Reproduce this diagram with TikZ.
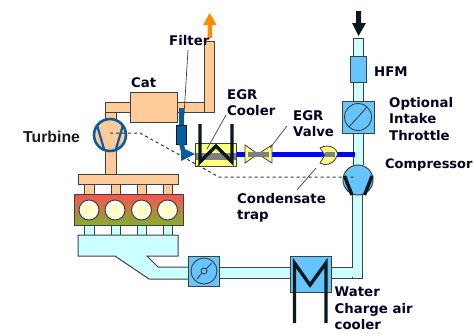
\documentclass[tikz,border=0pt]{standalone}
\usepackage{fontspec}
\setmainfont{DejaVu Sans}
\newfontfamily\arialfont{Liberation Sans}
\usetikzlibrary{arrows,positioning}
\definecolor{hotpipe}{HTML}{FFCC99}
\definecolor{coldpipe}{HTML}{CCFFFF}
\definecolor{sensorblue}{HTML}{66C4FF}
\definecolor{filterblue}{HTML}{0A5CA0}
\definecolor{linegrey}{HTML}{404040}
\definecolor{coilblack}{HTML}{06191F}
\definecolor{egryellow}{HTML}{FFFF80}
\definecolor{blocktop}{HTML}{FF5050}
\definecolor{blockbottom}{HTML}{80B030}
\tikzset{
  hot/.style={draw=linegrey,fill=hotpipe,line width=1pt},
  cold/.style={draw=linegrey,fill=coldpipe,line width=1pt},
  sensor/.style={draw=linegrey,fill=sensorblue,line width=1pt},
  egrpart/.style={draw=linegrey,fill=egryellow,line width=0.8pt},
  coil/.style={draw=coilblack,line width=3.4pt,line join=miter},
  leader/.style={draw=linegrey,line width=0.7pt},
  lbl/.style={font=\fontsize{13.3}{16.5}\selectfont\bfseries,anchor=west,align=left,inner sep=0pt,text=black!85!blue}
}
\begin{document}
\begin{tikzpicture}[x=1pt,y=-1pt]
\useasboundingbox (0,0) rectangle (473,333);
% exhaust side
\draw[hot] (105,102) rectangle (130,112);
\draw[hot] (105,112) rectangle (116,120);
\draw[hot] (105,150) rectangle (116,174);
\draw[hot] (177,102) rectangle (204,112);
\draw[hot] (204,41) rectangle (214.5,112);
\draw[hot] (130,92) rectangle (177,122);
\fill[orange!90!yellow] (207.5,38) -- (207.5,25) -- (203,25) -- (209.7,13) -- (216.5,25) -- (212,25) -- (212,38) -- cycle;
% turbine
\draw[fill=hotpipe,draw=filterblue,line width=2.6pt] (110,135) circle (16);
\draw[draw=filterblue,line width=2.2pt] (97,125) -- (104,149);
\draw[draw=filterblue,line width=2.2pt] (123,125) -- (116,149);
% engine
\draw[hot] (78,174) rectangle (178,184);
\foreach \x in {84.5,111,137,163} {
  \draw[hot] (\x,184) rectangle (\x+9.5,194);
  \draw[cold] (\x,225) rectangle (\x+9.5,235);
}
\draw[draw=linegrey,line width=1pt,top color=blocktop,bottom color=blockbottom] (74,194) rectangle (183,225);
\foreach \x in {89,115,141.5,167.5} {
  \draw[draw=linegrey,line width=1pt,inner color=yellow!35,outer color=white] (\x,210) circle (10);
}
% intake side
\draw[cold] (78,235) -- (178,235) -- (178,256) -- (147,256) -- (158,267) -- (188.5,267) -- (188.5,279) -- (149,279) -- (115,256) -- (78,256) -- cycle;
\draw[cold] (353,165) -- (353,38) -- (363.5,38) -- (363.5,165);
\draw[cold] (219,267) rectangle (352,278);
\draw[cold] (352,194) rectangle (362,278);
\fill[coldpipe] (351,268) rectangle (352.5,277);
\draw[sensor] (350,56.5) rectangle (366.5,82);
\draw[sensor] (342,101) rectangle (374,133);
\draw[draw=linegrey,line width=0.9pt] (358,117) circle (13.5);
\draw[draw=linegrey,line width=0.9pt] (349,127) -- (367,107);
\draw[sensor] (188.5,256) rectangle (219,286);
\draw[draw=linegrey,line width=0.9pt] (204,271) circle (13);
\draw[draw=linegrey,line width=0.9pt,fill=sensorblue] (204,271) circle (3);
\draw[draw=linegrey,line width=0.9pt] (197,279) -- (201.5,273.5);
\draw[draw=linegrey,line width=0.9pt] (206.5,268.5) -- (212,263);
\fill[coilblack] (356,11) -- (361,11) -- (361,23) -- (366,23) -- (358.5,36) -- (352,23) -- (356,23) -- cycle;
% charge air cooler
\draw[sensor] (290,256) rectangle (331,292);
\draw[coil] (294.5,323) -- (294.5,263) -- (310,285) -- (326,263) -- (326,323);
% compressor
\draw[sensor] (358,180) circle (15);
\draw[coil] (344.5,176) -- (352,195);
\draw[coil] (372,176) -- (364.5,195);
% egr path
\draw[draw=blue,line width=5pt] (222,154.5) -- (355,154.5);
\draw[egrpart] (195,143) rectangle (236,166);
\draw[egrpart] (245,145) -- (258,154) -- (245,163) -- cycle;
\draw[egrpart] (272,145) -- (258,154) -- (272,163) -- cycle;
\draw[egrpart] (320,148) .. controls (331,142) and (341,151) .. (336,158) .. controls (332,165) and (325,166) .. (320,163) -- (325,155) -- cycle;
\draw[draw=gray,line width=7pt] (196,156.5) -- (235.5,156.5);
\draw[draw=gray,line width=4.5pt] (248,154.5) -- (269,154.5);
\draw[draw=gray,line width=4.5pt] (325,154.5) -- (335,154.5);
\draw[coil] (200,124) -- (200,162) -- (216,146) -- (232,162) -- (232,124);
% filter
\draw[draw=filterblue,line width=5pt] (181.5,108) -- (181.5,126);
\draw[fill=filterblue,draw=coilblack,line width=0.7pt] (176.5,125) rectangle (186,144);
\fill[filterblue] (179,144) -- (184,144) -- (185,149) -- (195,154) -- (181,161) -- (181,152) -- cycle;
% labels
\node[lbl] (filter) at (169,41) {Filter};
\node[lbl] (cat) at (131,83) {Cat};
\node[lbl] (cooler) at (227,102.5) {EGR\\Cooler};
\node[lbl] (valve) at (293,123.5) {EGR\\Valve};
\node[lbl] (hfm) at (374,72) {HFM};
\node[lbl] (throttle) at (389,119) {Optional\\Intake\\Throttle};
\node[lbl,font=\fontsize{13}{16.5}\selectfont\bfseries] (compressor) at (385,165) {Compressor};
\node[lbl] (trap) at (237,208) {Condensate\\trap};
\node[lbl] (water) at (334.5,308.5) {Water\\Charge air\\cooler};
\node[anchor=west,inner sep=0pt,font=\arialfont\fontsize{15.8}{18}\selectfont\bfseries,text=black!90] (turbine) at (23,137) {Turbine};
% leaders
\coordinate (filterend) at (184,115);
\coordinate (coolerend) at (207,149);
\coordinate (valveend) at (270,148);
\coordinate (trapend) at (316,168);
\draw[leader] (188,50) -- (filterend);
\draw[leader] (226,115) -- (coolerend);
\draw[leader] (287,126) -- (valveend);
\draw[leader] (297,190) -- (trapend);
\draw[draw=black!80,line width=1pt,dashed] (110,133) -- (140,133) -- (219,177) -- (355,177);
\end{tikzpicture}
\end{document}
